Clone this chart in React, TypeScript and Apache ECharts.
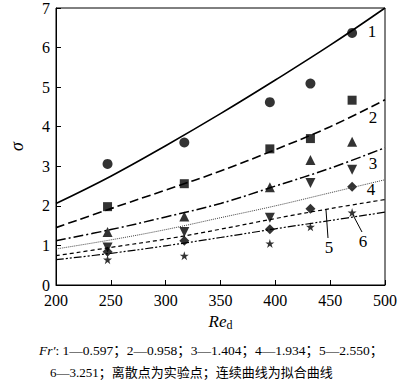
import React, { useEffect, useRef } from "react";
import * as echarts from "echarts";

const reX = [200, 250, 300, 350, 400, 450, 500];
const curve1 = [2.06, 2.75, 3.52, 4.33, 5.18, 6.06, 7.0];
const curve2 = [1.45, 1.93, 2.4, 2.88, 3.42, 4.0, 4.68];
const curve3 = [1.12, 1.4, 1.72, 2.06, 2.5, 2.95, 3.47];
const curve4 = [0.91, 1.14, 1.4, 1.7, 2.0, 2.33, 2.66];
const curve5 = [0.74, 0.95, 1.16, 1.41, 1.68, 1.93, 2.16];
const curve6 = [0.64, 0.8, 0.99, 1.2, 1.42, 1.63, 1.84];

const expX = [247, 317, 395, 432, 470];
const exp1 = [3.06, 3.6, 4.62, 5.09, 6.37];
const exp2 = [1.98, 2.56, 3.44, 3.7, 4.67];
const exp3 = [1.34, 1.73, 2.47, 3.16, 3.62];
const exp4 = [0.95, 1.34, 1.7, 2.58, 2.91];
const exp5 = [0.84, 1.12, 1.41, 1.93, 2.48];
const exp6 = [0.64, 0.74, 1.05, 1.47, 1.83];

const xTicks = [200, 250, 300, 350, 400, 450, 500];
const yTicks = [0, 1, 2, 3, 4, 5, 6, 7];

const serif = "'Liberation Serif', 'Times New Roman', serif";
const STAR =
  "path://M5,0 L6.18,3.82 L10,3.82 L6.91,6.18 L8.09,10 L5,7.64 L1.91,10 L3.09,6.18 L0,3.82 L3.82,3.82 Z";
const TRI_DOWN = "path://M0,0 L10,0 L5,9 Z";

export default function App() {
  const ref = useRef<HTMLDivElement>(null);
  useEffect(() => {
    if (!ref.current) return;
    const chart = echarts.init(ref.current, undefined, { renderer: "svg" });
    const pair = (xs: number[], ys: number[]) => xs.map((x, i) => [x, ys[i]]);
    const curves = [
      { d: curve1, type: "solid" as any, w: 1.6, c: "#000" },
      { d: curve2, type: [9, 4], w: 1.6, c: "#000" },
      { d: curve3, type: [10, 3, 2, 3], w: 1.5, c: "#000" },
      { d: curve4, type: [1, 1], w: 1, c: "#444" },
      { d: curve5, type: [4, 3], w: 1.2, c: "#000" },
      { d: curve6, type: [8, 2, 2, 2, 2, 2], w: 1.2, c: "#000" },
    ];
    const exps = [
      { d: exp1, s: "circle", size: 10 },
      { d: exp2, s: "rect", size: 9 },
      { d: exp3, s: "triangle", size: 10 },
      { d: exp4, s: TRI_DOWN, size: 10 },
      { d: exp5, s: "diamond", size: 10 },
      { d: exp6, s: STAR, size: 9 },
    ];
    const series: any[] = [];
    curves.forEach((c) =>
      series.push({
        type: "line",
        data: pair(reX, c.d),
        smooth: 0.4,
        symbol: "none",
        lineStyle: { color: c.c, width: c.w, type: c.type },
        silent: true,
      })
    );
    exps.forEach((e) =>
      series.push({
        type: "scatter",
        data: pair(expX, e.d),
        symbol: e.s,
        symbolSize: e.size,
        itemStyle: { color: "#000" },
      })
    );
    const lbl = (t: string, x: number, y: number) => ({
      type: "text",
      x,
      y,
      style: { text: t, font: `17px ${serif}`, fill: "#000", textAlign: "center", textVerticalAlign: "middle" },
    });
    chart.setOption({
      animation: false,
      grid: {
        left: 37,
        right: 13,
        top: 5,
        bottom: 99,
        show: true,
        borderColor: "#000",
        borderWidth: 1,
        backgroundColor: "transparent",
      },
      xAxis: {
        type: "value",
        min: xTicks[0],
        max: xTicks[xTicks.length - 1],
        interval: 50,
        name: "{i|Re}{s|d}",
        nameLocation: "middle",
        nameGap: 26,
        nameTextStyle: {
          rich: {
            i: { fontFamily: serif, fontStyle: "italic", fontSize: 17, color: "#000" },
            s: { fontFamily: serif, fontSize: 12, color: "#000", verticalAlign: "bottom", padding: [8, 0, 0, 0] },
          },
        },
        axisLine: { lineStyle: { color: "#000", width: 1 } },
        axisTick: { inside: true, length: 5, lineStyle: { color: "#000" } },
        axisLabel: { fontFamily: serif, fontSize: 16, lineHeight: 12, color: "#000", margin: 9 },
        splitLine: { show: false },
      },
      yAxis: {
        type: "value",
        min: yTicks[0],
        max: yTicks[yTicks.length - 1],
        interval: 1,
        name: "σ",
        nameLocation: "middle",
        nameRotate: 90,
        nameGap: 30,
        nameTextStyle: { fontFamily: serif, fontStyle: "italic", fontSize: 18, color: "#000" },
        axisLine: { lineStyle: { color: "#000", width: 1 } },
        axisTick: { inside: true, length: 5, lineStyle: { color: "#000" } },
        axisLabel: { fontFamily: serif, fontSize: 16, lineHeight: 12, color: "#000", margin: 6, padding: [0, 0, 3, 0] },
        splitLine: { show: false },
      },
      series,
      graphic: [
        lbl("1", 372, 31),
        lbl("2", 373, 117),
        lbl("3", 373, 163),
        lbl("4", 371, 189),
        lbl("5", 329, 247),
        lbl("6", 363, 241),
        { type: "line", shape: { x1: 326, y1: 210, x2: 328, y2: 238 }, style: { stroke: "#000", lineWidth: 1 } },
        { type: "line", shape: { x1: 353, y1: 215, x2: 362, y2: 232 }, style: { stroke: "#000", lineWidth: 1 } },
        {
          type: "text",
          x: 39,
          y: 350,
          style: {
            text: "{i|Fr′}: 1—0.597；2—0.958；3—1.404；4—1.934；5—2.550；",
            font: `13.5px ${serif}, 'Noto Sans CJK SC'`,
            fill: "#000",
            textVerticalAlign: "middle",
            rich: { i: { fontStyle: "italic", fontFamily: serif, fontSize: 13.5 } },
          },
        },
        {
          type: "text",
          x: 50,
          y: 372,
          style: {
            text: "6—3.251；离散点为实验点；连续曲线为拟合曲线",
            font: `13px ${serif}, 'Noto Sans CJK SC'`,
            fill: "#000",
            textVerticalAlign: "middle",
          },
        },
      ],
    });
    return () => chart.dispose();
  }, []);
  return (
    <div
      ref={ref}
      style={{ position: "absolute", left: 0, top: 0, width: 400, height: 384, background: "#fff" }}
    />
  );
}
